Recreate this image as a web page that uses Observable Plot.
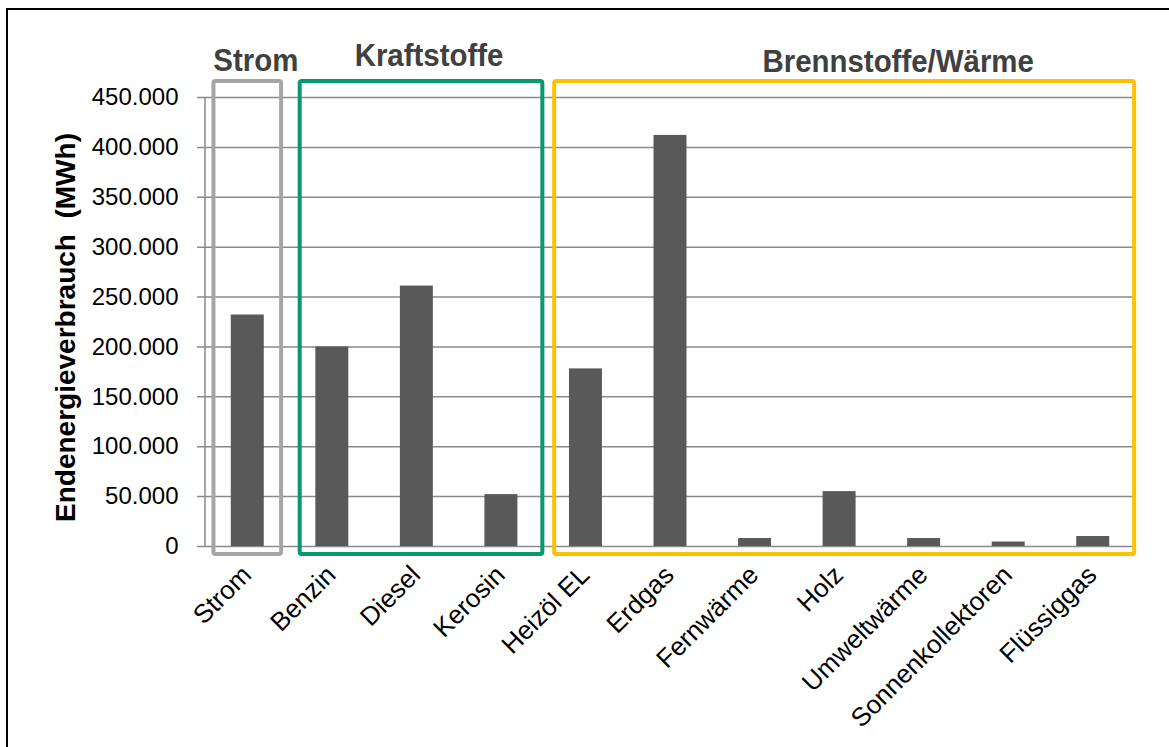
<!DOCTYPE html>
<html>
<head>
<meta charset="utf-8">
<script src="https://cdn.jsdelivr.net/npm/d3@7"></script>
<script src="https://cdn.jsdelivr.net/npm/@observablehq/plot@0.6"></script>
<style>
  html, body { margin: 0; padding: 0; background: #fff; overflow: hidden; }
  #chart { position: absolute; left: 0; top: 0; }
  #edge { position: absolute; left: 6px; top: 8px; width: 1400px; height: 1000px;
          border-top: 2px solid #000; border-left: 2px solid #000; pointer-events: none; }
</style>
</head>
<body>
<div id="chart"></div>
<div id="edge"></div>
<script>
// Energy carriers and their final energy consumption (MWh)
const categories = ["Strom", "Benzin", "Diesel", "Kerosin", "Heizöl EL", "Erdgas",
  "Fernwärme", "Holz", "Umweltwärme", "Sonnenkollektoren", "Flüssiggas"];
const consumption = [232000, 200000, 261000, 52000, 178000, 412000,
  8000, 55000, 8000, 4500, 10000];

// Groups of carriers, given by their first and last category
const groupNames = ["Strom", "Kraftstoffe", "Brennstoffe/Wärme"];
const groupFirst = ["Strom", "Benzin", "Heizöl EL"];
const groupLast = ["Strom", "Kerosin", "Flüssiggas"];

const yTicks = [0, 50000, 100000, 150000, 200000, 250000, 300000, 350000, 400000, 450000];
const yTitle = "Endenergieverbrauch  (MWh)";

// Styling
const FONT = '"Liberation Sans", Arial, Helvetica, sans-serif';
const groupColor = ["#a6a6a6", "#079a6e", "#ffc000"];
const boxPad = [[0.40, 0.40], [0.38, 0.49], [0.37, 0.49]]; // in band steps, left / right
const labelShift = [[8.5, -10], [8, -15], [54, -9]];        // label offset from box top centre
const gridColor = "#8a8a8a";

const de = d3.formatLocale({decimal: ",", thousands: ".", grouping: [3], currency: ["", " €"]});
const fmt = de.format(",d");

const rows = categories.map((c, i) => ({category: c, value: consumption[i]}));

// Group frames, group headings, value axis line and axis title
function decorations(index, scales, values, dims) {
  const x = scales.x, y = scales.y;
  const bw = typeof x.bandwidth === "function" ? x.bandwidth() : x.bandwidth;
  const step = typeof x.step === "function" ? x.step() : x.step;
  const yTop = y(d3.max(yTicks));
  const yBase = y(0);
  const g = d3.create("svg:g");

  g.append("line")
    .attr("x1", dims.marginLeft).attr("x2", dims.marginLeft)
    .attr("y1", yTop).attr("y2", yBase + 1)
    .attr("stroke", gridColor).attr("stroke-width", 1.5);

  const boxTop = yTop - 16;
  const boxBottom = yBase + 8;
  groupNames.forEach((name, i) => {
    const left = x(groupFirst[i]) + bw / 2 - boxPad[i][0] * step;
    const right = x(groupLast[i]) + bw / 2 + boxPad[i][1] * step;
    g.append("rect")
      .attr("x", left).attr("y", boxTop)
      .attr("width", right - left).attr("height", boxBottom - boxTop)
      .attr("rx", 2)
      .attr("fill", "none")
      .attr("stroke", groupColor[i])
      .attr("stroke-width", 4);
    g.append("text")
      .attr("transform", `translate(${(left + right) / 2 + labelShift[i][0]},${boxTop + labelShift[i][1]}) scale(0.92,1)`)
      .attr("text-anchor", "middle")
      .attr("font-family", FONT)
      .attr("font-weight", "bold")
      .attr("font-size", 32)
      .attr("fill", "#404040")
      .text(name);
  });

  g.append("text")
    .attr("transform", `translate(${dims.marginLeft - 130},${(yTop + yBase) / 2 + 6}) rotate(-90)`)
    .attr("text-anchor", "middle")
    .attr("font-family", FONT)
    .attr("font-weight", "bold")
    .attr("font-size", 28)
    .attr("fill", "#000")
    .style("white-space", "pre")
    .text(yTitle);

  return g.node();
}

const chart = Plot.plot({
  width: 1169,
  height: 747,
  marginLeft: 205,
  marginRight: 34,
  marginTop: 97,
  marginBottom: 201,
  style: {fontFamily: FONT, fontSize: "24px", color: "#000", background: "#fff"},
  x: {domain: categories, paddingInner: 0.61, paddingOuter: 0.305, round: false, axis: null},
  y: {domain: [0, 450000], ticks: yTicks, tickFormat: fmt, tickSize: 0, tickPadding: 27, label: null},
  marks: [
    Plot.ruleY(yTicks, {stroke: gridColor, strokeWidth: 1.5, insetLeft: -8}),
    decorations,
    Plot.barY(rows, {x: "category", y: "value", fill: "#595959"}),
    Plot.text(rows, {
      x: "category", y: () => 0, text: "category",
      rotate: -45, textAnchor: "end", lineAnchor: "bottom",
      dx: 5, dy: 30, fontSize: 26, fill: "#000"
    })
  ]
});

document.getElementById("chart").appendChild(chart);
</script>
</body>
</html>
